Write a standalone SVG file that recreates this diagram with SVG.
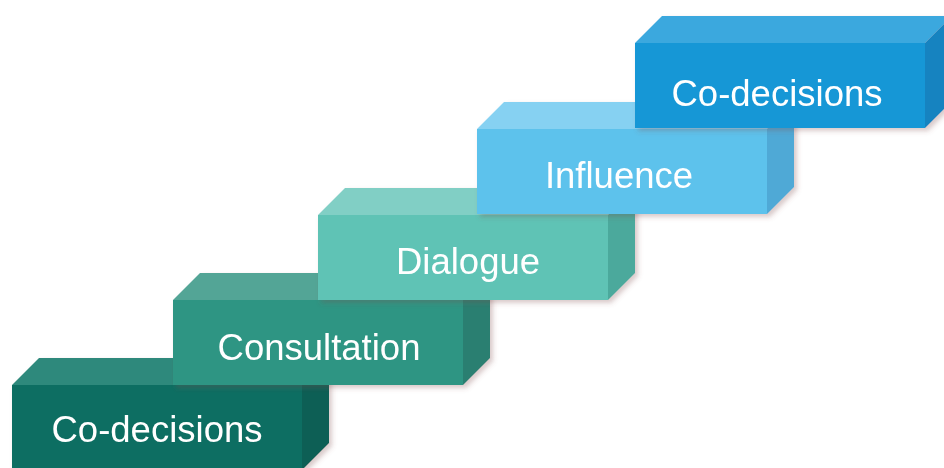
<svg xmlns="http://www.w3.org/2000/svg" width="944" height="468" viewBox="0 0 944 468">
<defs>
<filter id="sh" x="-10%" y="-10%" width="130%" height="140%">
<feDropShadow dx="3" dy="3" stdDeviation="2.5" flood-color="#805050" flood-opacity="0.3"/>
</filter>
</defs>
<style>
.lbl{font-family:"Liberation Sans",Arial,sans-serif;font-size:36.5px;fill:#ffffff;text-anchor:middle}
</style>
<rect width="944" height="468" fill="#ffffff"/>
<g id="step1" filter="url(#sh)">
<polygon points="12,385 302,385 329,358 39,358" fill="#2e897b"/>
<polygon points="302,385 329,358 329,443 302,470" fill="#0c5e54"/>
<rect x="12" y="385" width="290" height="85" fill="#0f6e62"/>
<text class="lbl" x="157" y="442">Co-decisions</text>
</g>
<g id="step2" filter="url(#sh)">
<polygon points="173,300 463,300 490,273 200,273" fill="#53a596"/>
<polygon points="463,300 490,273 490,358 463,385" fill="#2b7f71"/>
<rect x="173" y="300" width="290" height="85" fill="#2f9583"/>
<text class="lbl" x="319" y="360">Consultation</text>
</g>
<g id="step3" filter="url(#sh)">
<polygon points="318,215 608,215 635,188 345,188" fill="#81cfc5"/>
<polygon points="608,215 635,188 635,273 608,300" fill="#4ba99c"/>
<rect x="318" y="215" width="290" height="85" fill="#5ec3b5"/>
<text class="lbl" x="468" y="274">Dialogue</text>
</g>
<g id="step4" filter="url(#sh)">
<polygon points="477,129 767,129 794,102 504,102" fill="#86d1f2"/>
<polygon points="767,129 794,102 794,187 767,214" fill="#4fa9d6"/>
<rect x="477" y="129" width="290" height="85" fill="#5dc2ec"/>
<text class="lbl" x="619" y="188">Influence</text>
</g>
<g id="step5" filter="url(#sh)">
<polygon points="635,43 925,43 952,16 662,16" fill="#3aa8de"/>
<polygon points="925,43 952,16 952,101 925,128" fill="#1683c0"/>
<rect x="635" y="43" width="290" height="85" fill="#1797d6"/>
<text class="lbl" x="777" y="106">Co-decisions</text>
</g>
<g id="connectors"/>
</svg>
